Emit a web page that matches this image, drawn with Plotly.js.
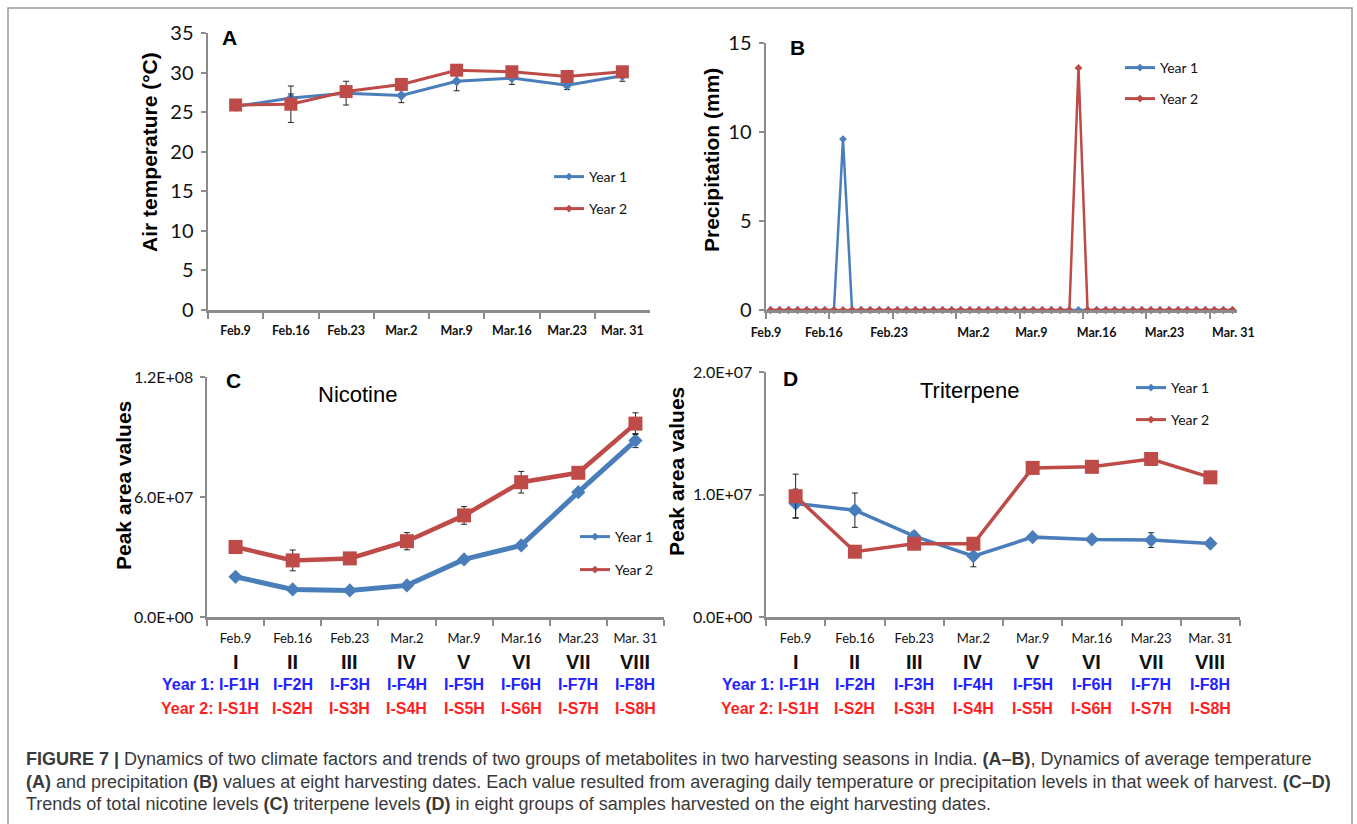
<!DOCTYPE html>
<html><head><meta charset="utf-8">
<script src="https://cdn.plot.ly/plotly-3.0.1.min.js"></script>
<style>html,body{margin:0;padding:0;background:#fff}#chart{width:1357px;height:824px}</style>
</head><body><div id="chart"></div>
<script>
// ---------- data ----------
const dates = ['Feb.9','Feb.16','Feb.23','Mar.2','Mar.9','Mar.16','Mar.23','Mar. 31'];
const roman = ['I','II','III','IV','V','VI','VII','VIII'];
const year1Codes = ['I-F1H','I-F2H','I-F3H','I-F4H','I-F5H','I-F6H','I-F7H','I-F8H'];
const year2Codes = ['I-S1H','I-S2H','I-S3H','I-S4H','I-S5H','I-S6H','I-S7H','I-S8H'];
const seriesNames = ['Year 1','Year 2'];

const tempYear1    = [25.7, 26.8, 27.4, 27.1, 28.9, 29.3, 28.4, 29.6];
const tempYear1Err = [0.3, 0.5, 1.5, 0.9, 1.2, 0.8, 0.55, 0.7];
const tempYear2    = [25.9, 26.0, 27.6, 28.5, 30.3, 30.1, 29.5, 30.1];
const tempYear2Err = [0.3, 2.3, 0.4, 0.3, 0.3, 0.3, 0.7, 0.3];

// daily precipitation (mm), Feb.9 .. Mar.31
const precipYear1 = [
  0,0,0,0,0,0,0,0,9.6,0,
  0,0,0,0,0,0,0,0,0,0,
  0,0,0,0,0,0,0,0,0,0,
  0,0,0,0,0,0,0,0,0,0,
  0,0,0,0,0,0,0,0,0,0,
  0,0];
const precipYear2 = [
  0,0,0,0,0,0,0,0,0,0,
  0,0,0,0,0,0,0,0,0,0,
  0,0,0,0,0,0,0,0,0,0,
  0,0,0,0,13.6,0,0,0,0,0,
  0,0,0,0,0,0,0,0,0,0,
  0,0];
const precipLabelPos = [-0.5, 5.9, 13.1, 22.4, 28.8, 36.0, 43.5, 51.1];

const nicYear1    = [2.01e7, 1.38e7, 1.33e7, 1.58e7, 2.88e7, 3.58e7, 6.24e7, 8.82e7];
const nicYear1Err = [1.2e6, 1.2e6, 0.8e6, 0.8e6, 1.2e6, 1.2e6, 1.5e6, 3.5e6];
const nicYear2    = [3.5e7, 2.83e7, 2.93e7, 3.79e7, 5.08e7, 6.74e7, 7.21e7, 9.67e7];
const nicYear2Err = [3.0e6, 5.2e6, 1.5e6, 4.3e6, 4.4e6, 5.4e6, 1.5e6, 5.4e6];

const triYear1    = [9.27e6, 8.72e6, 6.6e6, 4.97e6, 6.52e6, 6.33e6, 6.28e6, 6.0e6];
const triYear1Err = [1.17e6, 1.4e6, 0.35e6, 0.87e6, 0.2e6, 0.2e6, 0.6e6, 0.2e6];
const triYear2    = [9.86e6, 5.33e6, 5.98e6, 5.98e6, 1.217e7, 1.226e7, 1.29e7, 1.14e7];
const triYear2Err = [1.8e6, 0.2e6, 0.2e6, 0.2e6, 0.2e6, 0.2e6, 0.35e6, 0.2e6];

const nicTicks = [0, 6e7, 1.2e8], nicTickText = ['0.0E+00','6.0E+07','1.2E+08'];
const triTicks = [0, 1e7, 2e7],  triTickText = ['0.0E+00','1.0E+07','2.0E+07'];

const captionLines = [
  '<b>FIGURE 7 |</b> Dynamics of two climate factors and trends of two groups of metabolites in two harvesting seasons in India. <b>(A–B)</b>, Dynamics of average temperature',
  '<b>(A)</b> and precipitation <b>(B)</b> values at eight harvesting dates. Each value resulted from averaging daily temperature or precipitation levels in that week of harvest. <b>(C–D)</b>',
  'Trends of total nicotine levels <b>(C)</b> triterpene levels <b>(D)</b> in eight groups of samples harvested on the eight harvesting dates.'
];

// ---------- style ----------
const W = 1357, H = 824;
const X = p => p / W, Y = p => 1 - p / H;
const GRAY = '#8c8c8c', BLUE = '#4a7ebb', RED = '#be4b48';
const CAL = 'Lato, "Liberation Sans", sans-serif';
const ARIAL = '"Liberation Sans", Arial, Helvetica, sans-serif';
const dayIdx = precipYear1.map((_, i) => i);

function errBar(arr){ return {type:'data', array:arr, visible:true, color:'#222', thickness:1, width:3}; }
function series(x, y, err, xa, ya, color, symbol, size, lw){
  const t = {x, y, xaxis:xa, yaxis:ya, mode:'lines+markers', showlegend:false, hoverinfo:'skip',
    line:{color, width:lw}, marker:{symbol, size, color, line:{width:0}}, cliponaxis:false};
  if (err) t.error_y = errBar(err);
  return t;
}
function legTrace(name, color, xa, ya, leg){
  return {x:[null], y:[null], xaxis:xa, yaxis:ya, name, legend:leg, mode:'lines+markers', showlegend:true,
    line:{color, width:3}, marker:{symbol:'diamond', size:6, color}};
}

const traces = [
  series(dates, tempYear1, tempYear1Err, 'x', 'y', BLUE, 'diamond', 8, 3),
  series(dates, tempYear2, tempYear2Err, 'x', 'y', RED, 'square', 13, 3),
  series(dayIdx, precipYear1, null, 'x2', 'y2', BLUE, 'diamond', 6, 2.5),
  series(dayIdx, precipYear2, null, 'x2', 'y2', RED, 'diamond', 6, 2.5),
  series(dates, nicYear1, nicYear1Err, 'x3', 'y3', BLUE, 'diamond', 11, 5),
  series(dates, nicYear2, nicYear2Err, 'x3', 'y3', RED, 'square', 14, 4.5),
  series(dates, triYear1, triYear1Err, 'x4', 'y4', BLUE, 'diamond', 11, 3.5),
  series(dates, triYear2, triYear2Err, 'x4', 'y4', RED, 'square', 14, 3.5),
  legTrace(seriesNames[0], BLUE, 'x', 'y', 'legend'),
  legTrace(seriesNames[1], RED, 'x', 'y', 'legend2'),
  legTrace(seriesNames[0], BLUE, 'x2', 'y2', 'legend3'),
  legTrace(seriesNames[1], RED, 'x2', 'y2', 'legend4'),
  legTrace(seriesNames[0], BLUE, 'x3', 'y3', 'legend5'),
  legTrace(seriesNames[1], RED, 'x3', 'y3', 'legend6'),
  legTrace(seriesNames[0], BLUE, 'x4', 'y4', 'legend7'),
  legTrace(seriesNames[1], RED, 'x4', 'y4', 'legend8')
];

function catX(domain, anchor, bold, standoff){
  return {domain, anchor, type:'category', range:[-0.5, 7.5], tickson:'boundaries', tickangle:0,
    ticks:'outside', ticklen:6, tickwidth:2, tickcolor:GRAY, showline:true, linecolor:GRAY, linewidth:2.5,
    showgrid:false, zeroline:false, ticklabelstandoff:standoff, fixedrange:true,
    tickfont:{family:CAL, size: bold ? 12.5 : 13, color:'#111', weight: bold ? 'bold' : 'normal'}};
}
function valY(domain, anchor, range, tickvals, ticktext, size){
  return {domain, anchor, range, tickmode:'array', tickvals, ticktext,
    ticks:'outside', ticklen:5, tickwidth:2, tickcolor:GRAY, showline:true, linecolor:GRAY, linewidth:2.5,
    showgrid:false, zeroline:false, ticklabelstandoff:3, fixedrange:true,
    tickfont:{family:CAL, size, color:'#111'}};
}
const tempTicks = [0,5,10,15,20,25,30,35];
const precTicks = [0,5,10,15];

const legFont = {family:CAL, size:14, color:'#111'};
function leg(px, py){ return {x:X(px), y:Y(py), xanchor:'left', yanchor:'middle', bgcolor:'rgba(0,0,0,0)', borderwidth:0, font:legFont, itemwidth:30}; }

const ann = [];
function txt(px, py, text, font, extra){
  ann.push(Object.assign({xref:'paper', yref:'paper', x:X(px), y:Y(py), xanchor:'center', yanchor:'middle', text, showarrow:false, font}, extra||{}));
}
const letterFont = {family:ARIAL, size:21, color:'#000', weight:'bold'};
txt(229, 38, 'A', letterFont); txt(797, 47, 'B', letterFont);
txt(233, 381, 'C', letterFont); txt(790, 378, 'D', letterFont);
txt(357, 394, 'Nicotine', {family:ARIAL, size:22, color:'#000'});
txt(969, 390, 'Triterpene', {family:ARIAL, size:22, color:'#000'});
const ytFont = {family:ARIAL, size:21, color:'#000', weight:'bold'};
txt(149, 152, 'Air temperature (°C)', ytFont, {textangle:-90});
txt(711, 160, 'Precipitation (mm)', ytFont, {textangle:-90});
txt(124, 486, 'Peak area values', ytFont, {textangle:-90});
txt(676, 472, 'Peak area values', ytFont, {textangle:-90});

['x3','x4'].forEach(xr => {
  roman.forEach((r, i) => {
    ann.push({xref:xr, yref:'paper', x:i, y:Y(662), yanchor:'middle', xanchor:'center', text:r, showarrow:false,
      font:{family:ARIAL, size:20, color:'#111', weight:'bold'}});
    ann.push({xref:xr, yref:'paper', x:i, y:Y(684), yanchor:'middle',
      text: i === 0 ? seriesNames[0] + ': ' + year1Codes[i] : year1Codes[i],
      xanchor: i === 0 ? 'right' : 'center', xshift: i === 0 ? 25 : 0, showarrow:false,
      font:{family:ARIAL, size:16, color:'#2323ff', weight:'bold'}});
    ann.push({xref:xr, yref:'paper', x:i, y:Y(708), yanchor:'middle',
      text: i === 0 ? seriesNames[1] + ': ' + year2Codes[i] : year2Codes[i],
      xanchor: i === 0 ? 'right' : 'center', xshift: i === 0 ? 25 : 0, showarrow:false,
      font:{family:ARIAL, size:16, color:'#ff1f1f', weight:'bold'}});
  });
});
const capY = [759, 782, 804];
captionLines.forEach((c, i) => txt(24, capY[i], c, {family:ARIAL, size:18, color:'#3a3a3a'}, {xanchor:'left'}));

const layout = {
  width:W, height:H, margin:{l:0, r:0, t:0, b:0}, paper_bgcolor:'#fff', plot_bgcolor:'#fff', showlegend:true,
  xaxis: catX([X(208), X(650)], 'y', true, 7),
  yaxis: valY([Y(310), Y(33)], 'x', [0, 35], tempTicks, tempTicks.map(String), 20),
  xaxis2: {domain:[X(766), X(1237)], anchor:'y2', range:[-0.5, 51.5], tickmode:'array', tickangle:0,
    tickvals:precipLabelPos, ticktext:dates, ticks:'', showline:true, linecolor:GRAY, linewidth:2.5,
    showgrid:false, zeroline:false, ticklabelstandoff:9, fixedrange:true,
    tickfont:{family:CAL, size:12.5, color:'#111', weight:'bold'},
    minor:{tickmode:'array', tickvals:[-0.5, 6.5, 13.5, 20.5, 27.5, 34.5, 41.5, 48.5], ticks:'outside', ticklen:6, tickwidth:2, tickcolor:GRAY, showgrid:false}},
  yaxis2: valY([Y(310), Y(43)], 'x2', [0, 15], precTicks, precTicks.map(String), 20),
  xaxis3: catX([X(207), X(664)], 'y3', false, 8),
  yaxis3: valY([Y(617), Y(377)], 'x3', [0, 1.2e8], nicTicks, nicTickText, 16),
  xaxis4: catX([X(766), X(1240)], 'y4', false, 8),
  yaxis4: valY([Y(617), Y(372)], 'x4', [0, 2e7], triTicks, triTickText, 16),
  legend: leg(549, 177), legend2: leg(549, 209),
  legend3: leg(1120, 68), legend4: leg(1120, 99),
  legend5: leg(575, 537), legend6: leg(575, 570),
  legend7: leg(1131, 388), legend8: leg(1131, 420),
  annotations: ann,
  shapes: [{type:'rect', xref:'paper', yref:'paper', x0:X(8), x1:X(1352), y0:-0.05, y1:Y(8),
    line:{color:'#9a9a9a', width:1.5}, fillcolor:'rgba(0,0,0,0)', layer:'below'}]
};
Plotly.newPlot('chart', traces, layout, {displayModeBar:false, staticPlot:true});
</script>
</body></html>
